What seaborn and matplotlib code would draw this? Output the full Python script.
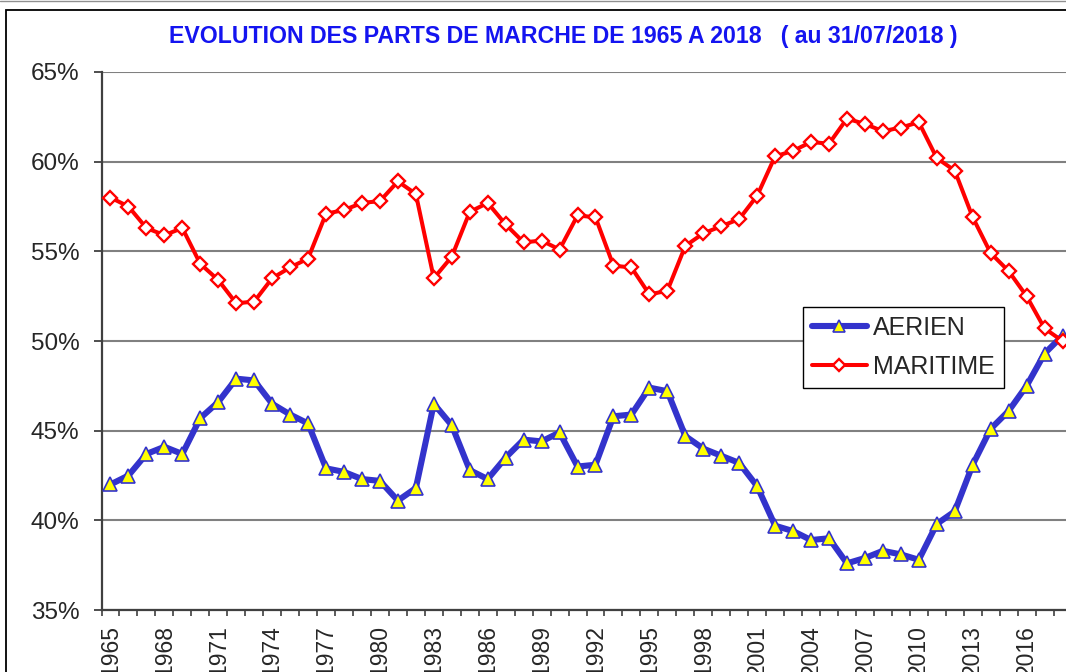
from __future__ import annotations

import matplotlib

matplotlib.use("Agg")
import matplotlib.pyplot as plt
import numpy as np
import pandas as pd
import seaborn as sns
from matplotlib.lines import Line2D
from matplotlib.patches import Rectangle
from matplotlib.ticker import FixedLocator, FuncFormatter

YEARS = list(range(1965, 2019))

MARITIME = [
    58.0, 57.5, 56.3, 55.9, 56.3, 54.3, 53.4, 52.1, 52.2, 53.5,
    54.1, 54.6, 57.1, 57.3, 57.7, 57.8, 58.9, 58.2, 53.5, 54.7,
    57.2, 57.7, 56.5, 55.5, 55.6, 55.1, 57.0, 56.9, 54.2, 54.1,
    52.6, 52.8, 55.3, 56.0, 56.4, 56.8, 58.1, 60.3, 60.6, 61.1,
    61.0, 62.4, 62.1, 61.7, 61.9, 62.2, 60.2, 59.5, 56.9, 54.9,
    53.9, 52.5, 50.7, 50.0,
]

AERIEN = [
    42.0, 42.5, 43.7, 44.1, 43.7, 45.7, 46.6, 47.9, 47.8, 46.5,
    45.9, 45.4, 42.9, 42.7, 42.3, 42.2, 41.1, 41.8, 46.5, 45.3,
    42.8, 42.3, 43.5, 44.5, 44.4, 44.9, 43.0, 43.1, 45.8, 45.9,
    47.4, 47.2, 44.7, 44.0, 43.6, 43.2, 41.9, 39.7, 39.4, 38.9,
    39.0, 37.6, 37.9, 38.3, 38.1, 37.8, 39.8, 40.5, 43.1, 45.1,
    46.1, 47.5, 49.3, 50.3,
]

Y_TICKS = [35, 40, 45, 50, 55, 60, 65]
TITLE = "EVOLUTION DES PARTS DE MARCHE DE 1965 A 2018   ( au 31/07/2018 )"


def build_frame() -> pd.DataFrame:
    return pd.DataFrame({"pos": np.arange(len(YEARS)), "year": YEARS,
                         "AERIEN": AERIEN, "MARITIME": MARITIME})


def main() -> None:
    sns.set_theme(style="white")
    plt.rcParams["font.family"] = ["Liberation Sans", "DejaVu Sans"]

    df = build_frame()
    fig = plt.figure(figsize=(10.66, 6.72), dpi=100)
    W, H = 1066, 672
    ax = fig.add_axes([101.5 / W, 1 - 610 / H, 970 / W, 538 / H])

    sns.lineplot(data=df, x="pos", y="AERIEN", ax=ax, color="#3333CC", lw=4.4,
                 marker="^", markersize=10.5, markerfacecolor="#FFFF00",
                 markeredgecolor="#3333CC", markeredgewidth=1.2, label="AERIEN",
                 clip_on=False, zorder=3)
    sns.lineplot(data=df, x="pos", y="MARITIME", ax=ax, color="#FF0000", lw=2.9,
                 marker="D", markersize=7.5, markerfacecolor="white",
                 markeredgecolor="#FF0000", markeredgewidth=1.7, label="MARITIME",
                 clip_on=False, zorder=4)

    ax.set_xlim(-0.5, len(YEARS) - 0.5)
    ax.set_ylim(35, 65)
    ax.set_xlabel("")
    ax.set_ylabel("")

    ax.yaxis.set_major_locator(FixedLocator(Y_TICKS))
    ax.yaxis.set_major_formatter(FuncFormatter(lambda v, _: f"{v:.0f}%"))
    ax.grid(axis="y", color="#808080", lw=1.5)
    ax.set_axisbelow(True)

    label_pos = df["pos"][::3].tolist()
    ax.xaxis.set_major_locator(FixedLocator(label_pos))
    ax.set_xticklabels([str(y) for y in df["year"][::3]], rotation=90, va="top")
    ax.xaxis.set_minor_locator(FixedLocator(np.arange(-0.5, len(YEARS), 1.0)))
    ax.tick_params(axis="x", which="major", length=0, pad=11, labelsize=16.5)
    ax.tick_params(axis="x", which="minor", length=4, width=1.2, color="#404040",
                   direction="out", bottom=True)
    ax.tick_params(axis="y", which="major", length=6, width=1.3, color="#404040",
                   direction="out", left=True, pad=10, labelsize=17.5)

    for side in ("top", "right"):
        ax.spines[side].set_visible(False)
    for side in ("left", "bottom"):
        ax.spines[side].set_color("#404040")
        ax.spines[side].set_linewidth(1.6)

    # legend box sits inside the plot, on the right
    ax.legend(loc="upper left", bbox_to_anchor=(803 / W, 1 - 307 / H),
              bbox_transform=fig.transFigure, borderaxespad=0, fontsize=18,
              frameon=True, fancybox=False, edgecolor="black", framealpha=1,
              handlelength=2.2, handletextpad=0.25, markerscale=0.8,
              borderpad=0.35, labelspacing=0.6)
    ax.get_legend().get_frame().set_linewidth(1.0)

    fig.text(563 / W, 1 - 36 / H, TITLE, ha="center", va="center",
             fontsize=16.7, fontweight="bold", color="#1414F0")

    fig.patches.append(Rectangle((6 / W, -0.1), 1.1, 1.1 - 10 / H,
                                 transform=fig.transFigure, fill=False,
                                 edgecolor="black", lw=1.3))
    fig.lines.append(Line2D([0, 1], [1 - 0.5 / H, 1 - 0.5 / H],
                            transform=fig.transFigure, color="#909090", lw=1.0))

    fig.savefig("out.png", dpi=100)
    plt.close(fig)


if __name__ == "__main__":
    main()
